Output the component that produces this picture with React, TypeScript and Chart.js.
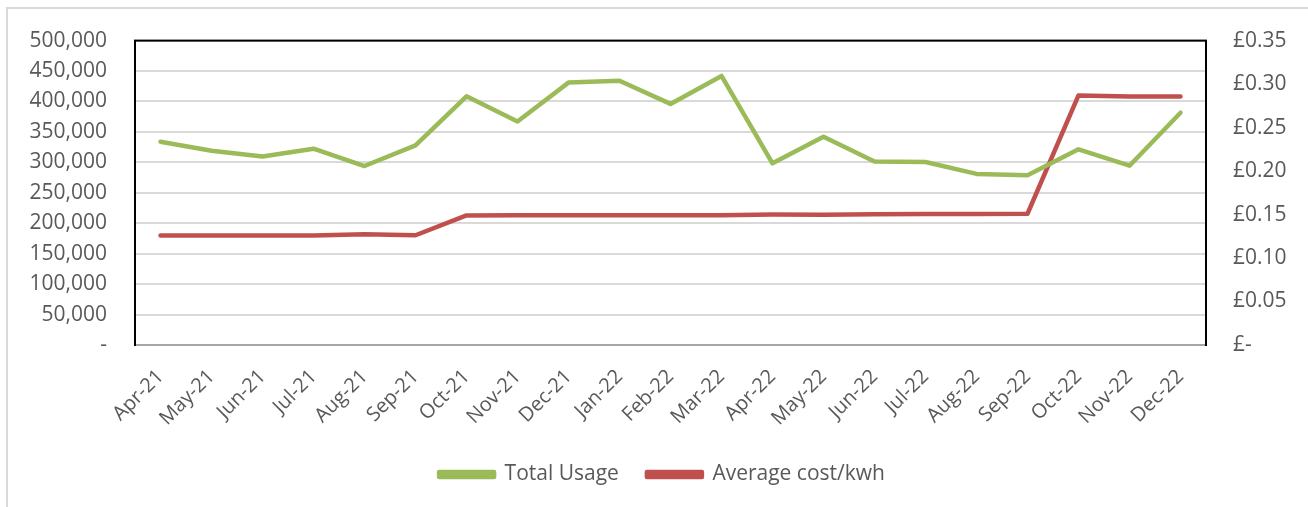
import React, { useEffect, useRef } from "react";
import { Chart, registerables } from "chart.js";

Chart.register(...registerables);

const months = [
  "Apr-21", "May-21", "Jun-21", "Jul-21", "Aug-21", "Sep-21", "Oct-21", "Nov-21", "Dec-21",
  "Jan-22", "Feb-22", "Mar-22", "Apr-22", "May-22", "Jun-22", "Jul-22", "Aug-22", "Sep-22",
  "Oct-22", "Nov-22", "Dec-22",
];
const totalUsage = [
  334000, 319000, 309500, 322500, 294000, 328000, 408500, 367000, 431000,
  434000, 396000, 442000, 298500, 342000, 301500, 300500, 281000, 279000,
  321500, 294500, 381500,
];
const avgCost = [
  0.1258, 0.1259, 0.1259, 0.1259, 0.1273, 0.1262, 0.149, 0.1492, 0.1491,
  0.1491, 0.1491, 0.1491, 0.1501, 0.1499, 0.1504, 0.1505, 0.1507, 0.1509,
  0.2869, 0.2858, 0.2858,
];
const usageTicks = [0, 50000, 100000, 150000, 200000, 250000, 300000, 350000, 400000, 450000, 500000];
const costTicks = [0, 0.05, 0.1, 0.15, 0.2, 0.25, 0.3, 0.35];

const FONT = "'Open Sans', sans-serif";
const TXT = "#595959";

const framePlugin = {
  id: "frame",
  beforeDraw(chart: any) {
    const ctx = chart.ctx;
    ctx.save();
    ctx.fillStyle = "#ffffff";
    ctx.fillRect(0, 0, chart.width, chart.height);
    ctx.strokeStyle = "#d9d9d9";
    ctx.lineWidth = 2;
    ctx.strokeRect(7, 8, chart.width + 10, chart.height + 10);
    ctx.restore();
  },
  beforeDatasetsDraw(chart: any) {
    const { ctx, chartArea: a } = chart;
    ctx.save();
    ctx.strokeStyle = "#000000";
    ctx.lineWidth = 2;
    ctx.strokeRect(a.left, a.top, a.right - a.left, a.bottom - a.top);
    ctx.strokeStyle = "#a6a6a6";
    ctx.beginPath();
    ctx.moveTo(a.left + 1, a.bottom);
    ctx.lineTo(a.right - 1, a.bottom);
    ctx.stroke();
    ctx.restore();
  },
};

export default function App() {
  const ref = useRef<HTMLCanvasElement>(null);
  useEffect(() => {
    if (!ref.current) return;
    const chart = new Chart(ref.current, {
      type: "line",
      data: {
        labels: months,
        datasets: [
          {
            label: "Total Usage",
            data: totalUsage,
            borderColor: "#9BBB59",
            backgroundColor: "#9BBB59",
            borderWidth: 4.5,
            pointRadius: 0,
            tension: 0,
            borderCapStyle: "round",
            borderJoinStyle: "round",
            yAxisID: "y",
          },
          {
            label: "Average cost/kwh",
            data: avgCost,
            borderColor: "#C0504D",
            backgroundColor: "#C0504D",
            borderWidth: 4.5,
            pointRadius: 0,
            tension: 0,
            borderCapStyle: "round",
            borderJoinStyle: "round",
            yAxisID: "y1",
          },
        ],
      },
      options: {
        responsive: false,
        maintainAspectRatio: false,
        animation: false,
        layout: { padding: { top: 37, left: 16, right: 0, bottom: 12 } },
        plugins: {
          tooltip: { enabled: false },
          legend: {
            position: "bottom",
            labels: {
              font: { family: FONT, size: 21 },
              color: TXT,
              boxWidth: 55,
              boxHeight: 5,
              padding: 28,
            },
          },
        },
        scales: {
          x: {
            offset: true,
            grid: { display: false, drawTicks: false },
            border: { display: false },
            ticks: {
              font: { family: FONT, size: 20 },
              color: TXT,
              maxRotation: 45,
              minRotation: 45,
              padding: 20,
              autoSkip: false,
            },
            afterFit(s: any) { s.height = 91; },
          },
          y: {
            position: "left",
            min: 0,
            max: 500000,
            afterBuildTicks(s: any) { s.ticks = usageTicks.map((v) => ({ value: v })); },
            grid: { color: "#d9d9d9", lineWidth: 2, drawTicks: false },
            border: { display: false },
            ticks: {
              font: { family: FONT, size: 21 },
              color: TXT,
              padding: 28,
              callback: (v: any) => (Number(v) === 0 ? "-" : Number(v).toLocaleString("en-GB")),
            },
            afterFit(s: any) { s.width = 119; },
          },
          y1: {
            position: "right",
            min: 0,
            max: 0.35,
            afterBuildTicks(s: any) { s.ticks = costTicks.map((v) => ({ value: v })); },
            grid: { display: false, drawTicks: false },
            border: { display: false },
            ticks: {
              font: { family: FONT, size: 21 },
              color: TXT,
              padding: 27,
              callback: (v: any) => (Number(v) === 0 ? "£-" : "£" + Number(v).toFixed(2)),
            },
            afterFit(s: any) { s.width = 102; },
          },
        },
      },
      plugins: [framePlugin],
    });
    return () => chart.destroy();
  }, []);
  return (
    <div style={{ position: "absolute", left: 0, top: 0, width: 1308, height: 507 }}>
      <canvas ref={ref} width={1308} height={507} style={{ display: "block" }} />
    </div>
  );
}
